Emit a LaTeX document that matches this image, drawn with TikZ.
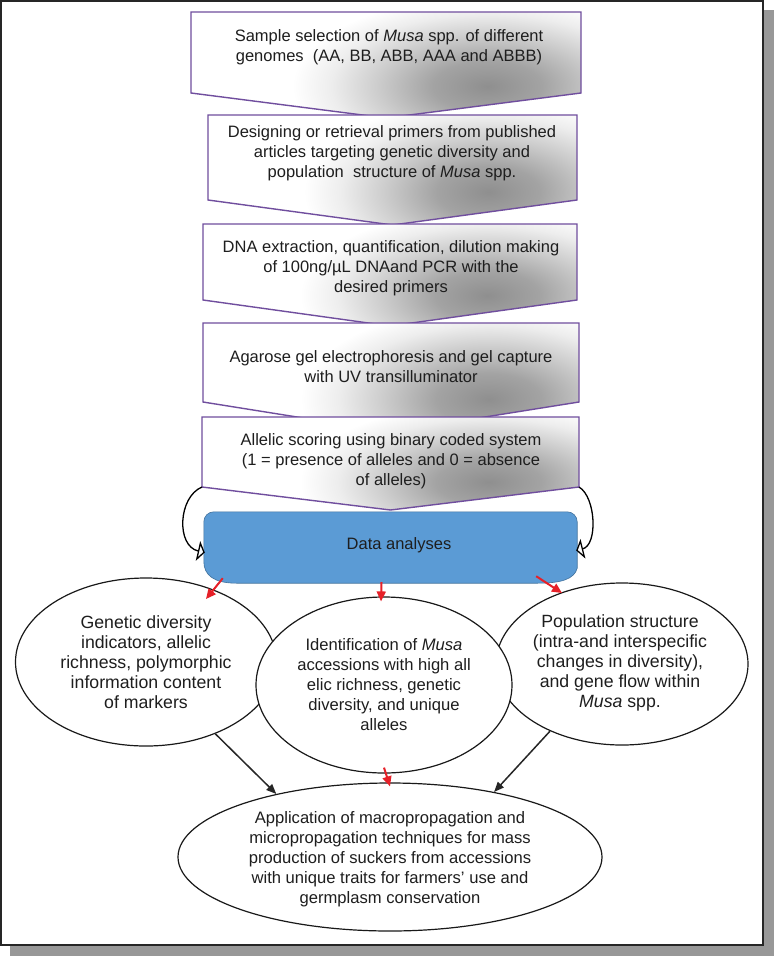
\documentclass[tikz,border=0pt]{standalone}
\usepackage{fontspec}
\setmainfont{Liberation Sans}
\usetikzlibrary{shapes.geometric,arrows.meta,calc}
\definecolor{stepviolet}{RGB}{112,78,158}
\definecolor{datablue}{RGB}{91,155,213}
\definecolor{dataedge}{RGB}{65,113,156}
\definecolor{arrowred}{RGB}{230,32,40}
\definecolor{shadowgray}{RGB}{152,152,152}
\definecolor{textdark}{RGB}{30,30,30}
\pgfdeclareradialshading{blob}{\pgfpoint{0bp}{0bp}}{color(0bp)=(black!44); color(7bp)=(black!36); color(14bp)=(black!20); color(20bp)=(black!7); color(25bp)=(white); color(50bp)=(white)}
\newcommand\flowstep[5]{%
  \begin{scope}
    \clip (#1,#3) -- (#2,#3) -- (#2,#4) -- ({(#1+#2)/2},#5) -- (#1,#4) -- cycle;
    \fill[white] (#1,#3) rectangle (#2,#5);
    \shade[shading=blob] ({#1+0.76*(#2-#1)},{#3+0.7*(#5-#3)}) ellipse ({0.5*(#2-#1)} and {0.85*(#5-#3)});
  \end{scope}
  \draw[stepline] (#1,#3) -- (#2,#3) -- (#2,#4) -- ({(#1+#2)/2},#5) -- (#1,#4) -- cycle;
}
\tikzset{
  stepline/.style={draw=stepviolet, line width=1.4pt, line join=miter},
  steptext/.style={align=center, text=textdark, inner sep=0pt, font=\fontsize{16.5}{20}\selectfont},
  ovalshape/.style={ellipse, draw=black!90, line width=1.2pt, fill=white, inner sep=0pt},
  ovaltext/.style={align=center, inner sep=0pt, text=textdark, font=\fontsize{16.6}{20}\selectfont},
  bigovaltext/.style={ovaltext, font=\fontsize{17.7}{20}\selectfont},
  redarrow/.style={draw=arrowred, line width=2pt, -{Triangle[length=10pt,width=9pt]}},
  blackarrow/.style={draw=black!85, line width=1.5pt, -{Triangle[length=10pt,width=8pt]}},
  loopline/.style={draw=black, line width=1.3pt, -{Triangle[open, length=7pt, width=20pt, fill=white]}},
  databox/.style={fill=datablue, draw=dataedge, line width=0.6pt},
}
\begin{document}
\begin{tikzpicture}[x=1pt,y=-1pt]
\useasboundingbox (0,0) rectangle (774,956);
% frame with shadow
\fill[shadowgray] (10,10) rectangle (774,956);
\draw[fill=white, draw=black!85, line width=1.5pt] (0.75,0.75) rectangle (763,945);

% step boxes
\flowstep{191}{581}{12}{93}{118}
\node[steptext] (s1) at (389,47) {Sample selection of \textit{Musa} spp. of different\\genomes\ \ (AA, BB, ABB, AAA and ABBB)};
\flowstep{208}{577}{115}{200}{225}
\node[steptext] (s2) at (392,153) {Designing or retrieval primers from published\\articles targeting genetic diversity and\\population\ \ structure of \textit{Musa} spp.};
\flowstep{203}{577}{224}{300}{326}
\node[steptext] (s3) at (391,268) {DNA extraction, quantification, dilution making\\of 100ng/µL DNAand PCR with the\\desired primers};
\flowstep{203}{579}{323}{402}{432}
\node[steptext] (s4) at (391,367) {Agarose gel electrophoresis and gel capture\\with UV transilluminator};
\flowstep{202}{579}{417}{487}{510}
\node[steptext] (s5) at (391,461) {Allelic scoring using binary coded system\\(1 = presence of alleles and 0 = absence\\of alleles)};
\coordinate (b5sw) at (202,487);
\coordinate (b5se) at (579,487);

% data analyses box
\node[minimum width=373pt, minimum height=71pt, inner sep=0pt] (data) at (390.5,547.5) {};
\draw[databox] ($(data.south west)+(0,-22)$) [rounded corners=10pt] -- (data.north west) -- (data.north east) [sharp corners] -- ($(data.south east)+(0,-15)$) .. controls ($(data.south east)+(-3,-4)$) and ($(data.south east)+(-16,0)$) .. ($(data.south east)+(-40,0)$) -- ($(data.south west)+(33,0)$) .. controls ($(data.south west)+(10,0)$) and ($(data.south west)+(0,-8)$) .. cycle;
\node[text=textdark, font=\fontsize{16.5}{20}\selectfont, inner sep=0pt] (datatext) at (399,545) {Data analyses};

% curved feedback arrows
\draw[loopline] (b5sw) .. controls (178,497) and (176,546) .. ($(data.west)+(1,5)$);
\draw[loopline] (b5se) .. controls (596,497) and (598,545) .. ($(data.east)+(-1,3)$);

% outcome ellipses
\node[ovalshape, minimum width=261pt, minimum height=168pt] (gd) at (146,662) {};
\node[bigovaltext] (gdtext) at (146,662) {Genetic diversity\\indicators, allelic\\richness, polymorphic\\information content\\of markers};
\node[ovalshape, minimum width=252pt, minimum height=162pt] (ps) at (622,664) {};
\node[bigovaltext] (pstext) at (620,663) {Population structure\\(intra-and interspecific\\changes in diversity),\\and gene flow within\\\textit{Musa} spp.};
\node[ovalshape, minimum width=256pt, minimum height=176pt] (mid) at (384,685) {};
\node[ovaltext] (midtext) at (384,685) {Identification of \textit{Musa}\\accessions with high all\\elic richness, genetic\\diversity, and unique\\alleles};
\node[ovalshape, minimum width=424pt, minimum height=148pt] (app) at (390,857) {};
\node[ovaltext] (apptext) at (390,859) {Application of macropropagation and\\micropropagation techniques for mass\\production of suckers from accessions\\with unique traits for farmers’ use and\\germplasm conservation};

% red arrows from data box
\draw[redarrow] ($(data.south west)+(19,-5)$) -- ($(gd.center)+(60,-63)$);
\draw[redarrow] ($(data.south)+(-9,-1)$) -- ($(mid.north)+(-3,5)$);
\draw[redarrow] ($(data.south east)+(-41,-7)$) -- ($(ps.center)+(-60,-71)$);

% arrows to application ellipse
\draw[blackarrow] (gd.-46) -- (app.151);
\draw[blackarrow] (ps.-137) -- (app.32);
\draw[redarrow] ($(mid.south)+(0,-6)$) -- ($(app.north)+(0,4)$);
\end{tikzpicture}
\end{document}
